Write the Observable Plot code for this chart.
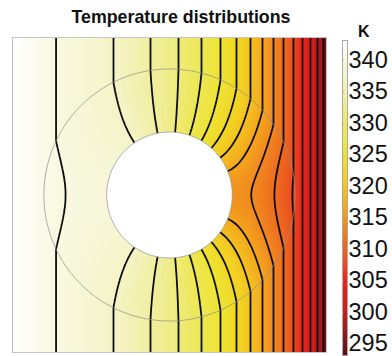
<!DOCTYPE html>
<html><head><meta charset="utf-8">
<script src="https://cdn.jsdelivr.net/npm/d3@7"></script>
<script src="https://cdn.jsdelivr.net/npm/@observablehq/plot@0.6"></script>
<style>
body{margin:0;background:#fff;}
#wrap{position:relative;width:392px;height:356px;overflow:hidden;font-family:"Liberation Sans",Arial,sans-serif;}
#title{position:absolute;left:12px;width:338px;top:5px;text-align:center;font-weight:bold;font-size:17.8px;line-height:24px;color:#111;}
#unit{position:absolute;left:358px;top:22px;font-weight:bold;font-size:16px;line-height:20px;color:#111;}
#main,#bar{position:absolute;top:0;}
#main{left:0;width:392px;} #bar{left:330px;width:62px;}
</style></head><body>
<div id="wrap"><div id="main"></div><div id="bar"></div><div id="title">Temperature distributions</div><div id="unit">K</div></div>
<script>
// Far-field isotherm positions (fraction of domain width from left edge) and their levels (K)
const isoX = [0.1385, 0.3217, 0.4395, 0.5287, 0.6019, 0.6624, 0.7134, 0.7580, 0.7962, 0.8312, 0.8631, 0.8949, 0.9236, 0.9490, 0.9713, 0.9904];
const isoT = [340.21, 337.27, 334.33, 331.39, 328.45, 325.50, 322.56, 319.62, 316.68, 313.74, 310.80, 307.86, 304.92, 301.97, 299.03, 296.09];
// Boundary temperatures (left hot, right cold)
const edgeX = [0, 1];
const edgeT = [343.15, 293.15];
// Geometry: insulating hole and conductive shell
const center = [0.5, 0.5];
const holeR = 0.2;
const shellR = 0.4;
// Colour bar
const barTicks = [295, 300, 305, 310, 315, 320, 325, 330, 335, 340];
const cmapT = [293.15, 297, 301, 305, 309, 313, 317, 321, 325, 329, 333, 337, 341, 343.15];
const cmapColors = ["#5c0f14", "#991b22", "#d41c1f", "#e8251b", "#ec5a1f", "#f0821f", "#f4aa1e", "#f3cf22", "#eee331", "#ede85a", "#efed90", "#f4f3c4", "#fafae8", "#ffffff"];

const tabX = [edgeX[0], ...isoX, edgeX[1]];
const tabT = [edgeT[0], ...isoT, edgeT[1]];
const tOf = d3.scaleLinear().domain(tabX).range(tabT).clamp(true);
function field(x, y) {
  const dx = x - center[0], dy = y - center[1];
  const r = Math.hypot(dx, dy);
  if (r >= shellR) return tOf(x);
  const rr = Math.max(r, holeR);
  const k = (1 + holeR * holeR / (rr * rr)) / (1 + holeR * holeR / (shellR * shellR));
  const s = r > 0 ? rr / r : 0;
  return tOf(center[0] + dx * s * k);
}
function circle(R) {
  return d3.range(0, 361, 2).map(a => ({x: center[0] + R * Math.cos(a * Math.PI / 180), y: center[1] + R * Math.sin(a * Math.PI / 180)}));
}
const colorScale = {type: "linear", domain: cmapT, range: cmapColors, interpolate: "rgb"};
const pad = 0.03;

const main = Plot.plot({
  width: 392, height: 356,
  marginLeft: 12, marginRight: 66, marginTop: 37, marginBottom: 4,
  x: {domain: [0, 1], axis: null},
  y: {domain: [0, 1], axis: null},
  color: colorScale,
  style: {background: "transparent"},
  marks: [
    Plot.raster({x1: 0, y1: 0, x2: 1, y2: 1, fill: field, pixelSize: 1}),
    Plot.contour({x1: -pad, y1: -pad, x2: 1 + pad, y2: 1 + pad, value: field, thresholds: isoT, stroke: "#0d0d0d", strokeWidth: 1.8, fill: "none", pixelSize: 1, clip: true}),
    Plot.line(circle(shellR), {x: "x", y: "y", stroke: "#8c8c8c", strokeWidth: 0.7}),
    Plot.line(circle(holeR), {x: "x", y: "y", fill: "white", stroke: "#9a9a9a", strokeWidth: 0.8}),
    Plot.frame({stroke: "#c4c4c4"})
  ]
});
document.getElementById("main").appendChild(main);

const bar = Plot.plot({
  width: 62, height: 356,
  marginLeft: 12, marginRight: 45, marginTop: 40, marginBottom: 1,
  x: {domain: [0, 1], axis: null},
  y: {domain: [edgeT[1], edgeT[0]], axis: null},
  color: colorScale,
  style: {background: "transparent", color: "#111", fontFamily: "'Liberation Sans', Arial, sans-serif"},
  marks: [
    Plot.raster({x1: 0, y1: edgeT[1], x2: 1, y2: edgeT[0], fill: (x, y) => y, pixelSize: 1}),
    Plot.ruleY(barTicks, {y: d => d, x1: 0, x2: 0.35, stroke: "#999", strokeWidth: 0.7}),
    Plot.frame({stroke: "#aaa"}),
    Plot.text(barTicks, {y: d => d, x: 1, dx: 1, textAnchor: "start", text: d => String(d), fontSize: 23.5, fill: "#111"})
  ]
});
document.getElementById("bar").appendChild(bar);
</script>
</body></html>
